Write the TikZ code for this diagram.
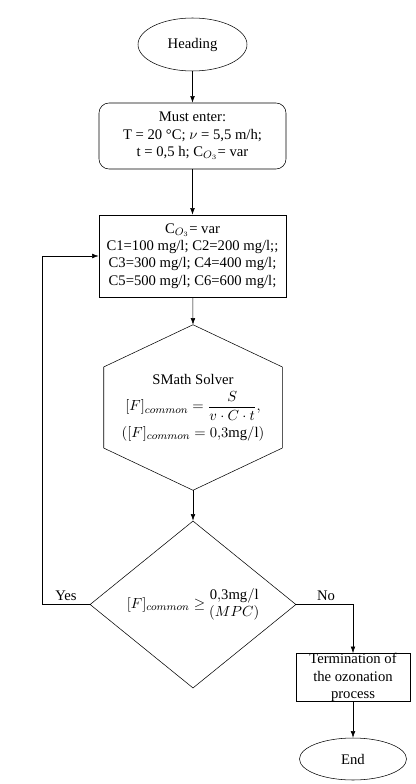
\documentclass[tikz,border=0pt]{standalone}
\usepackage{fontspec}
\setmainfont{Liberation Serif}
\usetikzlibrary{shapes.geometric,arrows.meta,calc}
\begin{document}
\begin{tikzpicture}[x=0.75pt,y=-0.75pt,
  every node/.style={font=\fontsize{11}{13}\selectfont,align=center},
  terminal/.style={draw,ellipse,inner sep=0pt},
  block/.style={draw,inner sep=0pt},
  arr/.style={-{Latex[length=5pt,width=3.5pt]}}]
  \useasboundingbox (0,0) rectangle (416,784);
  \node[terminal,minimum width=81.75pt,minimum height=39.75pt] (head) at (192.5,44.5) {Heading};
  \node[block,rounded corners=7.5pt,minimum width=140.25pt,minimum height=49.5pt] (input) at (192.5,136) {Must enter:\\T = 20 °C; $\nu$ = 5,5 m/h;\\t = 0,5 h; C$_{O_3}$= var};
  \node[block,minimum width=140.25pt,minimum height=61.5pt] (conc) at (192.5,256) {C$_{O_3}$= var\\C1=100 mg/l; C2=200 mg/l;;\\ C3=300 mg/l; C4=400 mg/l;\\C5=500 mg/l; C6=600 mg/l;};
  \node[minimum width=133.5pt,minimum height=123.75pt,inner sep=0pt] (solver) at (193,407.5) {SMath Solver\\[4pt]$[F]_{common}=\displaystyle\frac{S}{v\cdot C\cdot t},$\\[3pt]$([F]_{common}=0{,}3\mathrm{mg/l})$};
  \draw (solver.north) -- ($(solver.north east)!0.255!(solver.south east)$) -- ($(solver.north east)!0.745!(solver.south east)$) -- (solver.south) -- ($(solver.north west)!0.745!(solver.south west)$) -- ($(solver.north west)!0.255!(solver.south west)$) -- cycle;
  \node[draw,diamond,inner sep=0pt,minimum width=154.5pt,minimum height=122.25pt] (check) at (193,604.5) {$[F]_{common}\geq\begin{array}{@{}c@{}}\mathrm{0{,}3mg/l}\\(MPC)\end{array}$};
  \node[block,minimum width=85.5pt,minimum height=35.25pt] (term) at (353,677.5) {Termination of\\the ozonation\\process};
  \node[terminal,minimum width=80.25pt,minimum height=31.5pt] (end) at (353,759) {End};
  \coordinate (yesturn) at (42,604.5);
  \draw[arr] (head) -- (input);
  \draw[arr] (input) -- (conc);
  \draw[arr] (conc) -- (solver.north);
  \draw[arr] (solver.south) -- (check);
  \draw[arr] (check.west) -- (yesturn) |- (conc.west);
  \draw[arr] (check.east) -| (term.north);
  \draw[arr] (term) -- (end);
  \node at (66,596) {Yes};
  \node at (326,596) {No};
\end{tikzpicture}
\end{document}
